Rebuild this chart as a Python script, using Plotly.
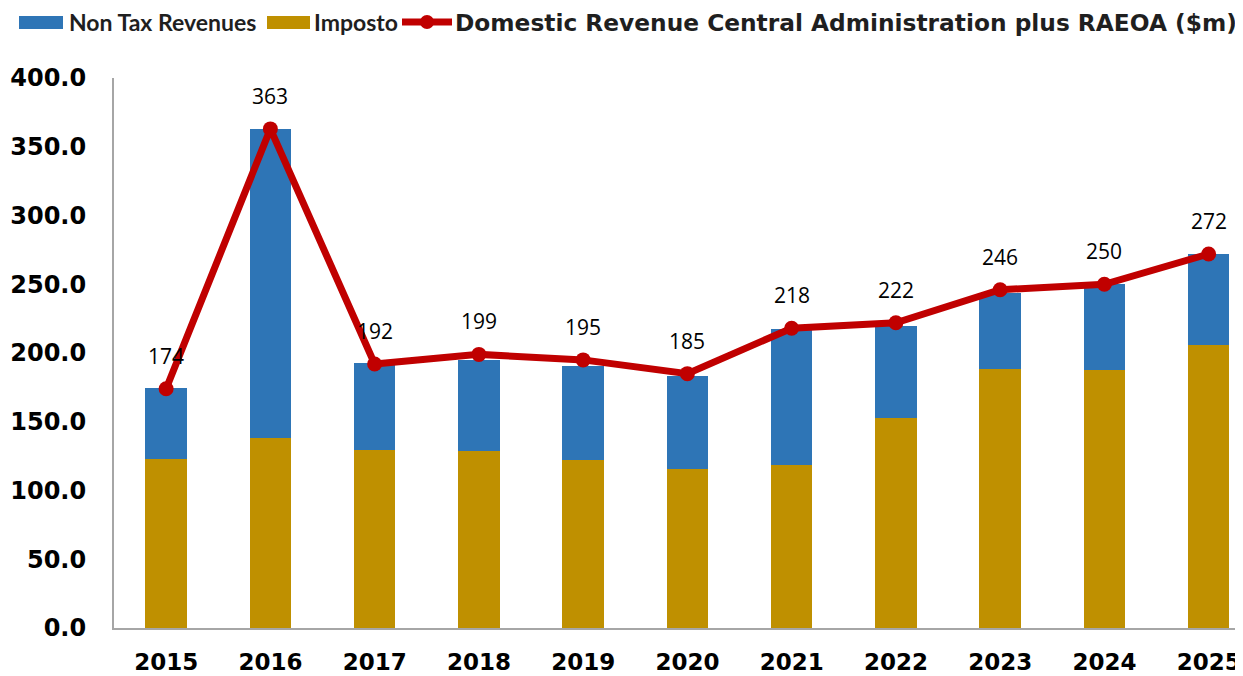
import plotly.graph_objects as go

years = ["2015", "2016", "2017", "2018", "2019", "2020", "2021", "2022", "2023", "2024", "2025"]
imposto = [122.9, 138.2, 129.5, 128.7, 122.2, 115.6, 118.5, 152.7, 188.4, 187.6, 205.8]
non_tax = [51.6, 224.7, 63.2, 66.2, 68.3, 67.7, 99.0, 66.9, 55.2, 62.6, 66.2]
domestic = [174, 363, 192, 199, 195, 185, 218, 222, 246, 250, 272]
y_ticks = [0, 50, 100, 150, 200, 250, 300, 350, 400]

legend_names = ["Non Tax Revenues", "Imposto", "Domestic Revenue Central Administration plus RAEOA ($m)"]

BLUE = "#2E75B6"
GOLD = "#BF9000"
RED = "#C00000"
FONT_B = "Lato"
FONT_T = "DejaVu Sans"

# page offset (body margin) is 8px
OFF = 8
L, T, PH = 114 - OFF, 78 - OFF, 550
W, H = 1235, 668
PW = W - L

xs = list(range(len(years)))

def px(x):
    return (x - OFF - L) / PW

def py(y):
    return (T + PH - (y - OFF)) / PH

fig = go.Figure()
fig.add_trace(go.Bar(x=xs, y=imposto, name=legend_names[1], marker=dict(color=GOLD, line=dict(width=0)), width=0.4))
fig.add_trace(go.Bar(x=xs, y=non_tax, name=legend_names[0], marker=dict(color=BLUE, line=dict(width=0)), width=0.4))
fig.add_trace(go.Scatter(x=xs, y=domestic, mode="lines+markers", name=legend_names[2],
                         line=dict(color=RED, width=7), marker=dict(color=RED, size=15)))

for x, v in zip(xs, domestic):
    fig.add_annotation(x=x, y=v, text=str(v), showarrow=False, yshift=33,
                       font=dict(family="Open Sans", size=21, color="#000000"))

# custom legend
ly = 22
fig.add_shape(type="rect", xref="paper", yref="paper", x0=px(19), x1=px(63),
              y0=py(29), y1=py(16), fillcolor=BLUE, line=dict(width=0))
fig.add_annotation(xref="paper", yref="paper", x=px(67), y=py(ly), xanchor="left", yanchor="middle",
                   text=legend_names[0], showarrow=False, font=dict(family=FONT_B, size=23, color="#1F1F1F", weight="bold"))
fig.add_shape(type="rect", xref="paper", yref="paper", x0=px(267), x1=px(310),
              y0=py(29), y1=py(16), fillcolor=GOLD, line=dict(width=0))
fig.add_annotation(xref="paper", yref="paper", x=px(312), y=py(ly), xanchor="left", yanchor="middle",
                   text=legend_names[1], showarrow=False, font=dict(family=FONT_B, size=23, color="#1F1F1F", weight="bold"))
fig.add_shape(type="line", xref="paper", yref="paper", x0=px(402), x1=px(452),
              y0=py(ly), y1=py(ly), line=dict(color=RED, width=7))
fig.add_shape(type="circle", xref="paper", yref="paper", x0=px(420), x1=px(434),
              y0=py(ly + 7), y1=py(ly - 7), fillcolor=RED, line=dict(width=0))
fig.add_annotation(xref="paper", yref="paper", x=px(453), y=py(ly), xanchor="left", yanchor="middle",
                   text=legend_names[2], showarrow=False, font=dict(family=FONT_T, size=23.3, color="#1F1F1F", weight="bold"))

fig.update_layout(
    width=W, height=H,
    margin=dict(l=L, r=0, t=T, b=H - T - PH, autoexpand=False),
    barmode="stack",
    showlegend=False,
    plot_bgcolor="white", paper_bgcolor="white",
    xaxis=dict(range=[-0.5, -0.5 + PW / 104.25], tickmode="array", tickvals=xs, ticktext=years,
               showline=True, linecolor="#A6A6A6", linewidth=2, ticks="", showgrid=False, zeroline=False,
               tickfont=dict(family=FONT_T, size=23, color="#000000", weight="bold"), ticklabelstandoff=12),
    yaxis=dict(range=[0, 400], tickmode="array", tickvals=y_ticks, ticktext=[f"{v:.1f}" for v in y_ticks],
               showline=True, linecolor="#A6A6A6", linewidth=2, ticks="", showgrid=False, zeroline=False,
               tickfont=dict(family=FONT_T, size=24, color="#000000", weight="bold"), ticklabelstandoff=21),
)

fig.write_html("out.html")
